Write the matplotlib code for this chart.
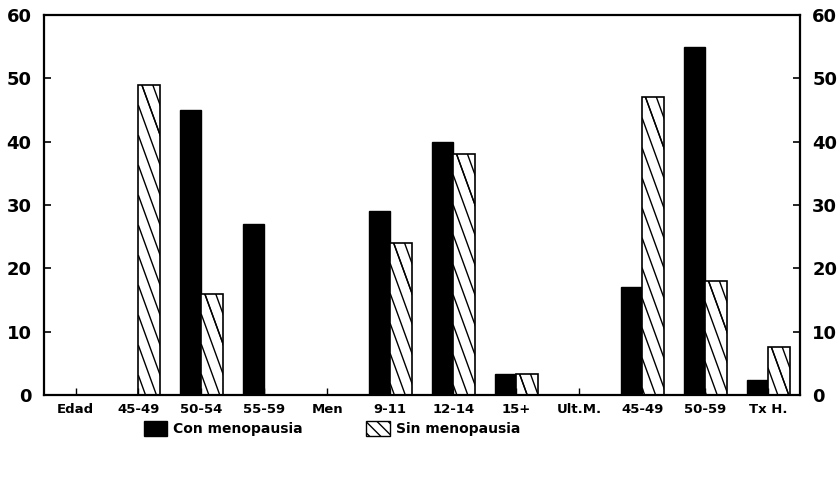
import numpy as np
import matplotlib
matplotlib.use("Agg")
import matplotlib.pyplot as plt
from matplotlib.patches import Patch

# ===========================
# Data
# ===========================
categories = ["Edad", "45-49", "50-54", "55-59", "Men", "9-11", "12-14",
              "15+", "Ult.M.", "45-49", "50-59", "Tx H."]
con_meno = [0, 0, 45, 27, 0, 29, 40, 3.3, 0, 17, 55, 2.4]
sin_meno = [0, 49, 16, 0, 0, 24, 38, 3.3, 0, 47, 18, 7.5]
y_ticks = [0, 10, 20, 30, 40, 50, 60]

plt.rcParams["font.family"] = ["DejaVu Sans"]
plt.rcParams["font.weight"] = "bold"

FIG_W, FIG_H = 8.4, 4.98
AX_RECT = [0.0524, 0.207, 0.8996, 0.763]

fig = plt.figure(figsize=(FIG_W, FIG_H), dpi=100)
ax = fig.add_axes(AX_RECT)

x = np.arange(len(categories))
w = 0.34

ax.bar(x - w / 2, con_meno, w, color="black", edgecolor="black", linewidth=1)
sin_bars = ax.bar(x + w / 2, sin_meno, w, color="white", edgecolor="black",
                  linewidth=1.2)

ax.set_xlim(-0.5, len(categories) - 0.5)
ax.set_ylim(0, 60)

# pixels per data unit (fixed axes rect, so this is known up front)
px_x = AX_RECT[2] * FIG_W * 100 / len(categories)
px_y = AX_RECT[3] * FIG_H * 100 / 60.0


# sparse steep "\" hatching, clipped to each bar
def steep_hatch(bar, dx=20.0, dy=55.0, gap=30.0):
    bx0, by0 = bar.get_x(), bar.get_y()
    bx1, by1 = bx0 + bar.get_width(), by0 + bar.get_height()
    if by1 - by0 <= 0:
        return
    slope = (dy / px_y) / (dx / px_x)  # data units of y per data unit of x
    step = gap / px_y
    c = by1 + 0.3 * step
    while c > by0 - step:
        xs = np.array([bx0, bx1 + 1])
        ys = c - slope * (xs - bx0)
        ln, = ax.plot(xs, ys, color="black", linewidth=1.0)
        ln.set_clip_path(bar)
        c -= step
    # the few lines that enter from the top edge
    t = bx0 + (0.3 * step) / slope
    while t < bx1:
        xs = np.array([t, bx1 + 1])
        ys = by1 - slope * (xs - t)
        ln, = ax.plot(xs, ys, color="black", linewidth=1.0)
        ln.set_clip_path(bar)
        t += step / slope


for b in sin_bars:
    steep_hatch(b)

ax.set_xlim(-0.5, len(categories) - 0.5)
ax.set_ylim(0, 60)

ax.set_xticks(x)
ax.set_xticklabels(categories, fontsize=9.5, fontweight="bold")
ax.tick_params(axis="x", direction="in", length=5, width=1, pad=6)

ax.set_yticks(y_ticks)
ax.set_yticklabels([str(v) for v in y_ticks], fontsize=13, fontweight="bold")
ax.tick_params(axis="y", direction="in", length=5, width=1.2,
               left=True, right=True, labelleft=True, labelright=True, pad=9)

for sp in ax.spines.values():
    sp.set_linewidth(1.6)

handles = [Patch(facecolor="black", edgecolor="black", label="Con menopausia"),
           Patch(facecolor="white", edgecolor="black", hatch="\\\\\\",
                 label="Sin menopausia")]
fig.legend(handles=handles, loc="center", bbox_to_anchor=(0.395, 0.14),
           ncol=2, frameon=False, fontsize=10, handlelength=1.7,
           handleheight=1.3, columnspacing=4.6, handletextpad=0.4)

fig.savefig("out.png", dpi=100)
